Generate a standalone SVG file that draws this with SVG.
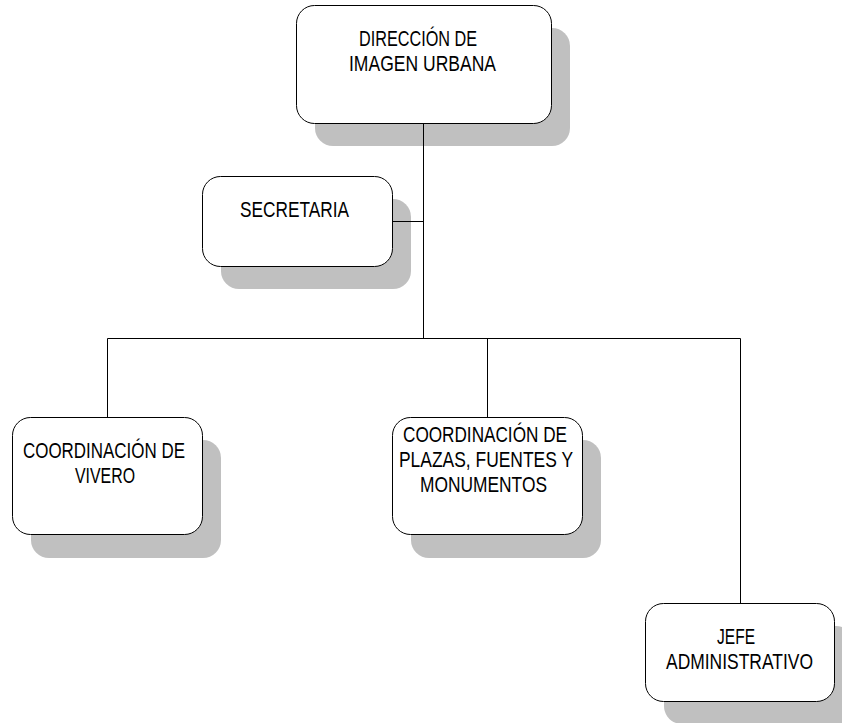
<svg xmlns="http://www.w3.org/2000/svg" width="842" height="723" viewBox="0 0 842 723">
  <style>
    .shadow { fill: #c0c0c0; stroke: none; }
    .box { fill: #ffffff; stroke: #000000; stroke-width: 1; }
    .label { font-family: "Liberation Sans", Arial, sans-serif; font-size: 22px; fill: #000000; text-anchor: middle; }
    .wire { stroke: #000000; stroke-width: 1; fill: none; }
  </style>
  <rect width="842" height="723" fill="#ffffff"/>

  <g id="direccion">
    <rect class="shadow" x="315" y="28" width="255" height="118" rx="18"/>
    <rect class="box" x="296.5" y="5.5" width="255" height="118" rx="18"/>
    <text class="label" x="418" y="46" textLength="118" lengthAdjust="spacingAndGlyphs">DIRECCIÓN DE</text>
    <text class="label" x="422.5" y="71" textLength="147" lengthAdjust="spacingAndGlyphs">IMAGEN URBANA</text>
  </g>

  <g id="secretaria">
    <rect class="shadow" x="221" y="199" width="190" height="90" rx="18"/>
    <rect class="box" x="202.5" y="176.5" width="190" height="90" rx="18"/>
    <text class="label" x="294.5" y="217" textLength="109" lengthAdjust="spacingAndGlyphs">SECRETARIA</text>
  </g>

  <g id="vivero">
    <rect class="shadow" x="31" y="440" width="190" height="118" rx="18"/>
    <rect class="box" x="12.5" y="417.5" width="190" height="117" rx="18"/>
    <text class="label" x="104" y="458" textLength="162" lengthAdjust="spacingAndGlyphs">COORDINACIÓN DE</text>
    <text class="label" x="105" y="483" textLength="60" lengthAdjust="spacingAndGlyphs">VIVERO</text>
  </g>

  <g id="plazas">
    <rect class="shadow" x="411" y="440" width="190" height="118" rx="18"/>
    <rect class="box" x="392.5" y="417.5" width="190" height="117" rx="18"/>
    <text class="label" x="485" y="442" textLength="164" lengthAdjust="spacingAndGlyphs">COORDINACIÓN DE</text>
    <text class="label" x="486" y="467" textLength="174" lengthAdjust="spacingAndGlyphs">PLAZAS, FUENTES Y</text>
    <text class="label" x="483.5" y="492" textLength="127" lengthAdjust="spacingAndGlyphs">MONUMENTOS</text>
  </g>

  <g id="jefe">
    <!-- shadow runs off the page edge on the right and bottom -->
    <path class="shadow" d="M664 644 A18 18 0 0 1 682 626 H836 A18 18 0 0 1 842 627 V723 H676 A18 18 0 0 1 664 706 Z"/>
    <rect class="box" x="645.5" y="603.5" width="189" height="98" rx="18"/>
    <text class="label" x="736" y="644" textLength="38" lengthAdjust="spacingAndGlyphs">JEFE</text>
    <text class="label" x="739.5" y="669" textLength="147" lengthAdjust="spacingAndGlyphs">ADMINISTRATIVO</text>
  </g>

  <g id="connectors">
    <path class="wire" d="M423.5 123.5 V338.5"/>
    <path class="wire" d="M392.5 221.5 H423.5"/>
    <path class="wire" d="M107.5 338.5 H740.5"/>
    <path class="wire" d="M107.5 338.5 V417.5"/>
    <path class="wire" d="M487.5 338.5 V417.5"/>
    <path class="wire" d="M740.5 338.5 V603.5"/>
  </g>
</svg>
